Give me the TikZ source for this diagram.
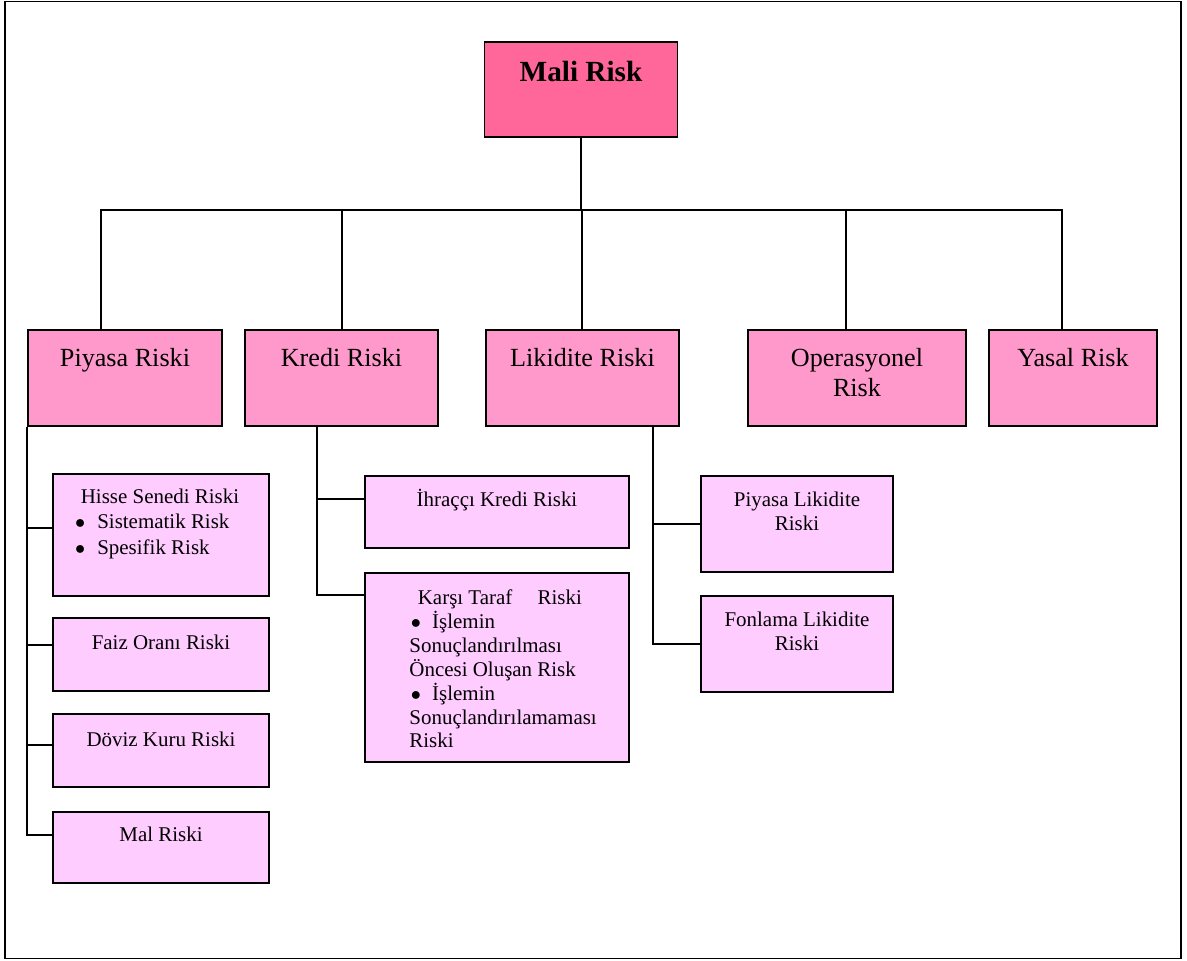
\documentclass[tikz,border=0pt]{standalone}
\usepackage{fontspec}
\setmainfont{Liberation Serif}
\usetikzlibrary{positioning}
\definecolor{malipink}{HTML}{FF6699}
\definecolor{riskpink}{HTML}{FF99CC}
\definecolor{subpink}{HTML}{FFCCFF}
% rows that hang from the first baseline
\newcommand{\toprows}[2]{\begin{tabular}[t]{@{}#1@{}}#2\end{tabular}}
\newcommand{\itembul}{$\bullet$\hspace{8.5pt}}
\begin{document}
\begin{tikzpicture}[x=0.025cm, y=-0.025cm,
  box/.style={draw, rectangle, line width=1.2pt, inner sep=0pt},
  topbox/.style={box, fill=malipink, minimum width=4.825cm, minimum height=2.375cm},
  riskbox/.style={box, fill=riskpink, minimum height=2.4cm},
  subbox/.style={box, fill=subpink, minimum width=5.4cm},
  toptxt/.style={anchor=base, inner sep=0pt, font=\fontsize{20.8}{24}\selectfont\bfseries},
  risktxt/.style={anchor=base, inner sep=0pt, font=\fontsize{18.6}{21.3}\selectfont},
  subtxt/.style={anchor=base, inner sep=0pt, font=\fontsize{14.9}{17}\selectfont},
  listtxt/.style={anchor=base west, inner sep=0pt, font=\fontsize{14.9}{16.8}\selectfont},
  link/.style={line width=1pt}]
\useasboundingbox (0,0) rectangle (1187,960);
\draw[line width=1pt] (5,1.5) rectangle (1181,958.5);

% top
\node[topbox] (mali) at (581,89.5) {};
\node[toptxt] (malit) at ([yshift=-1cm]mali.north) {Mali Risk};

% risk types
\node[riskbox, minimum width=4.85cm] (piyasa) at (125,378) {};
\node[riskbox, minimum width=4.825cm] (kredi) at (341.5,378) {};
\node[riskbox, minimum width=4.825cm] (likidite) at (582.5,378) {};
\node[riskbox, minimum width=5.45cm] (operasyonel) at (857,378) {};
\node[riskbox, minimum width=4.2cm] (yasal) at (1073,378) {};
\node[risktxt] (piyasat) at ([yshift=-0.925cm]piyasa.north) {Piyasa Riski};
\node[risktxt] (kredit) at ([yshift=-0.925cm]kredi.north) {Kredi Riski};
\node[risktxt] (likiditet) at ([yshift=-0.925cm]likidite.north) {Likidite Riski};
\node[risktxt] (operasyonelt) at ([yshift=-0.925cm]operasyonel.north) {\toprows{c}{Operasyonel\\Risk}};
\node[risktxt] (yasalt) at ([yshift=-0.925cm]yasal.north) {Yasal Risk};

% piyasa riski
\node[subbox, minimum height=3.05cm] (hisse) at (161,535) {};
\node[subbox, minimum height=1.825cm] (faiz) at (161,654.5) {};
\node[subbox, minimum height=1.825cm] (doviz) at (161,750.5) {};
\node[subbox, minimum height=1.775cm] (mal) at (161,847.5) {};
\node[listtxt, font=\fontsize{14.9}{18.2}\selectfont] (hisset) at ([xshift=0.57cm,yshift=-0.75cm]hisse.north west)
  {\toprows{l}{\hspace*{4pt}Hisse Senedi Riski\\\itembul Sistematik Risk\\\itembul Spesifik Risk}};
\node[subtxt] (faizt) at ([yshift=-0.8cm]faiz.north) {Faiz Oranı Riski};
\node[subtxt] (dovizt) at ([yshift=-0.825cm]doviz.north) {Döviz Kuru Riski};
\node[subtxt] (malt) at ([yshift=-0.75cm]mal.north) {Mal Riski};

% kredi riski
\node[subbox, minimum width=6.6cm, minimum height=1.8cm] (ihracci) at (497,512) {};
\node[subbox, minimum width=6.6cm, minimum height=4.725cm] (karsi) at (497,667.5) {};
\node[subtxt] (ihraccit) at ([yshift=-0.775cm]ihracci.north) {İhraççı Kredi Riski};
\node[listtxt] (karsit) at ([xshift=1.125cm,yshift=-0.8cm]karsi.north west)
  {\toprows{l}{\hspace*{6pt}Karşı Taraf\hspace{18pt}Riski\\\hspace*{1pt}$\bullet$\hspace{8pt}İşlemin\\Sonuçlandırılması\\Öncesi Oluşan Risk\\\hspace*{1pt}$\bullet$\hspace{8pt}İşlemin\\Sonuçlandırılamaması\\Riski}};

% likidite riski
\node[subbox, minimum width=4.8cm, minimum height=2.4cm] (piyasalik) at (797,524) {};
\node[subbox, minimum width=4.8cm, minimum height=2.4cm] (fonlama) at (797,644) {};
\node[subtxt] (piyasalikt) at ([yshift=-0.775cm]piyasalik.north) {\toprows{c}{Piyasa Likidite\\Riski}};
\node[subtxt] (fonlamat) at ([yshift=-0.775cm]fonlama.north) {\toprows{c}{Fonlama Likidite\\Riski}};

% connectors
\coordinate (bus) at (581,210);
\coordinate (kspine) at ([xshift=-0.61cm]kredi.south);
\coordinate (lspine) at ([xshift=1.76cm]likidite.south);
\draw[link] (mali.south) -- (bus);
\draw[link] ([xshift=-0.6cm]piyasa.north) |- (bus) -| ([xshift=-0.275cm]yasal.north);
\draw[link] ([xshift=0.0125cm]kredi.north) -- ([xshift=0.0125cm]kredi.north |- bus);
\draw[link] ([xshift=-0.0125cm]likidite.north) -- ([xshift=-0.0125cm]likidite.north |- bus);
\draw[link] ([xshift=-0.275cm]operasyonel.north) -- ([xshift=-0.275cm]operasyonel.north |- bus);

\draw[link] (piyasa.south west) |- ([yshift=0.31cm]mal.west);
\draw[link] ([yshift=0.175cm]hisse.west) -- ([yshift=0.175cm]hisse.west -| piyasa.west);
\draw[link] ([yshift=0.24cm]faiz.west) -- ([yshift=0.24cm]faiz.west -| piyasa.west);
\draw[link] ([yshift=0.14cm]doviz.west) -- ([yshift=0.14cm]doviz.west -| piyasa.west);

\draw[link] (kspine) |- ([yshift=1.81cm]karsi.west);
\draw[link] ([yshift=0.325cm]ihracci.west) -- ([yshift=0.325cm]ihracci.west -| kspine);

\draw[link] (lspine) |- (fonlama.west);
\draw[link] (piyasalik.west) -- (piyasalik.west -| lspine);
\end{tikzpicture}
\end{document}
